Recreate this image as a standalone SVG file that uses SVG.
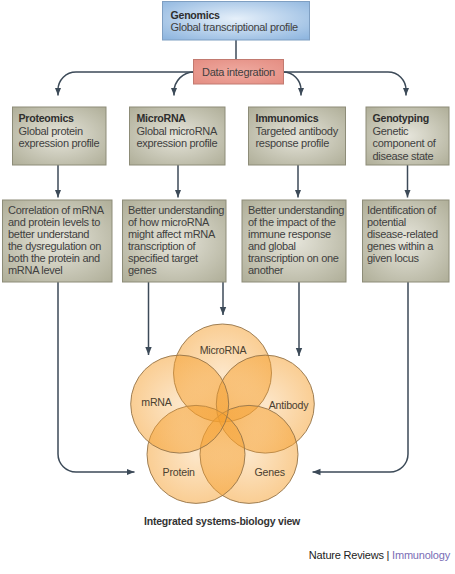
<svg xmlns="http://www.w3.org/2000/svg" width="455" height="574" viewBox="0 0 455 574">
<defs>
<radialGradient id="gBlue" cx="0.5" cy="0.45" r="0.7">
<stop offset="0" stop-color="#e6f0fa"/>
<stop offset="1" stop-color="#8fb6df"/>
</radialGradient>
<radialGradient id="gRed" cx="0.5" cy="0.5" r="0.7">
<stop offset="0" stop-color="#efaaa0"/>
<stop offset="1" stop-color="#e48d82"/>
</radialGradient>
<radialGradient id="gGrey" cx="0.5" cy="0.5" r="0.7">
<stop offset="0" stop-color="#e6e5db"/>
<stop offset="1" stop-color="#afae98"/>
</radialGradient>
<radialGradient id="gOrange" cx="0.5" cy="0.5" r="0.5">
<stop offset="0" stop-color="#f5a030" stop-opacity="0.26"/>
<stop offset="1" stop-color="#f5a030" stop-opacity="0.52"/>
</radialGradient>
<marker id="arr" markerUnits="userSpaceOnUse" markerWidth="8" markerHeight="8" viewBox="0 0 8 8" refX="8" refY="4" orient="auto">
<path d="M0,0.8 L8,4 L0,7.2 Z" fill="#3c4a58"/>
</marker>
<style>
.box{stroke:#8d8c78;stroke-width:1;fill:url(#gGrey)}
.t{font-family:"Liberation Sans",Arial,sans-serif;font-size:11px;letter-spacing:-0.3px;fill:#3f3f3f}
.b{font-family:"Liberation Sans",Arial,sans-serif;font-size:10.6px;letter-spacing:-0.25px;font-weight:bold;fill:#2e2e2e}
.v{font-family:"Liberation Sans",Arial,sans-serif;font-size:10.6px;letter-spacing:-0.2px;fill:#4a4030;text-anchor:middle}
.c{fill:none;stroke:#3c4a58;stroke-width:1.5;marker-end:url(#arr)}
.circ{fill:url(#gOrange);stroke:#94744a;stroke-width:0.9}
</style>
</defs>
<rect width="455" height="574" fill="#ffffff"/>

<g id="connectors">
<path d="M236,40 V60" fill="none" stroke="#3c4a58" stroke-width="1.5"/>
<path class="c" d="M194,72 H76 A18,18 0 0 0 58,90 V95.5"/>
<path class="c" d="M194,72 A20,20 0 0 0 174,92 V95.5"/>
<path class="c" d="M283,72 A18,18 0 0 1 301,90 V95.5"/>
<path class="c" d="M283,72 H388 A18,18 0 0 1 406,90 V95.5"/>
<path class="c" d="M58,165 V197.5"/>
<path class="c" d="M178,165 V197.5"/>
<path class="c" d="M298,165 V197.5"/>
<path class="c" d="M407.5,165 V197.5"/>
<path class="c" d="M58,282 V454 A18,18 0 0 0 76,472 H134.5"/>
<path class="c" d="M148.5,282 V355"/>
<path class="c" d="M223,282 V315"/>
<path class="c" d="M299,282 V356"/>
<path class="c" d="M408,282 V454 A18,18 0 0 1 390,472 H312.5"/>
</g>

<g id="genomics">
<rect x="162.5" y="1.5" width="147" height="38.5" fill="url(#gBlue)" stroke="#7f9fc2" stroke-width="1"/>
<text class="b" x="170.5" y="18.5">Genomics</text>
<text class="t" x="170.5" y="31">Global transcriptional profile</text>
</g>

<g id="data-integration">
<rect x="193.5" y="59.5" width="90" height="24.5" fill="url(#gRed)" stroke="#c27a70" stroke-width="1"/>
<text class="t" x="238.5" y="75.5" text-anchor="middle">Data integration</text>
</g>

<g id="proteomics">
<rect class="box" x="12.5" y="107" width="93.5" height="58"/>
<text class="b" x="18.5" y="122">Proteomics</text>
<text class="t" x="18.5" y="134.5">Global protein</text>
<text class="t" x="18.5" y="147">expression profile</text>
</g>

<g id="microrna">
<rect class="box" x="129.5" y="107" width="95.5" height="58"/>
<text class="b" x="136.5" y="122">MicroRNA</text>
<text class="t" x="136.5" y="134.5">Global microRNA</text>
<text class="t" x="136.5" y="147">expression profile</text>
</g>

<g id="immunomics">
<rect class="box" x="248.5" y="107" width="97" height="58"/>
<text class="b" x="255.5" y="122">Immunomics</text>
<text class="t" x="255.5" y="134.5">Targeted antibody</text>
<text class="t" x="255.5" y="147">response profile</text>
</g>

<g id="genotyping">
<rect class="box" x="366" y="107" width="83" height="58"/>
<text class="b" x="372.5" y="122">Genotyping</text>
<text class="t" x="372.5" y="134.5">Genetic</text>
<text class="t" x="372.5" y="147">component of</text>
<text class="t" x="372.5" y="159.5">disease state</text>
</g>

<g id="outcome-proteomics">
<rect class="box" x="2.5" y="200" width="109.5" height="82"/>
<text class="t" x="8" y="214">Correlation of mRNA</text>
<text class="t" x="8" y="226">and protein levels to</text>
<text class="t" x="8" y="238">better understand</text>
<text class="t" x="8" y="250">the dysregulation on</text>
<text class="t" x="8" y="262">both the protein and</text>
<text class="t" x="8" y="274">mRNA level</text>
</g>

<g id="outcome-microrna">
<rect class="box" x="122.5" y="200" width="103.5" height="82"/>
<text class="t" x="128" y="214">Better understanding</text>
<text class="t" x="128" y="226">of how microRNA</text>
<text class="t" x="128" y="238">might affect mRNA</text>
<text class="t" x="128" y="250">transcription of</text>
<text class="t" x="128" y="262">specified target</text>
<text class="t" x="128" y="274">genes</text>
</g>

<g id="outcome-immunomics">
<rect class="box" x="242" y="200" width="104" height="82"/>
<text class="t" x="248" y="214">Better understanding</text>
<text class="t" x="248" y="226">of the impact of the</text>
<text class="t" x="248" y="238">immune response</text>
<text class="t" x="248" y="250">and global</text>
<text class="t" x="248" y="262">transcription on one</text>
<text class="t" x="248" y="274">another</text>
</g>

<g id="outcome-genotyping">
<rect class="box" x="362.5" y="200" width="86.5" height="82"/>
<text class="t" x="367" y="214">Identification of</text>
<text class="t" x="367" y="226">potential</text>
<text class="t" x="367" y="238">disease-related</text>
<text class="t" x="367" y="250">genes within a</text>
<text class="t" x="367" y="262">given locus</text>
</g>

<g id="venn">
<g id="venn-microrna"><circle class="circ" cx="222.5" cy="373" r="49"/></g>
<g id="venn-antibody"><circle class="circ" cx="265.3" cy="404.1" r="49"/></g>
<g id="venn-genes"><circle class="circ" cx="249" cy="454.4" r="49"/></g>
<g id="venn-protein"><circle class="circ" cx="196" cy="454.4" r="49"/></g>
<g id="venn-mrna"><circle class="circ" cx="179.7" cy="404.1" r="49"/></g>
<text class="v" x="223" y="353.5">MicroRNA</text>
<text class="v" x="156.5" y="405.5">mRNA</text>
<text class="v" x="288.5" y="408.5">Antibody</text>
<text class="v" x="178.7" y="475.5">Protein</text>
<text class="v" x="269.7" y="475.5">Genes</text>
</g>

<g id="caption">
<text x="222" y="525" text-anchor="middle" style="font-family:'Liberation Sans',Arial,sans-serif;font-size:10.5px;letter-spacing:-0.2px;font-weight:bold;fill:#333">Integrated systems-biology view</text>
</g>

<g id="footer">
<text x="450" y="558.5" text-anchor="end" style="font-family:'Liberation Sans',Arial,sans-serif;font-size:11px;letter-spacing:-0.2px;fill:#222">Nature Reviews | <tspan fill="#7a6db5">Immunology</tspan></text>
</g>
</svg>
